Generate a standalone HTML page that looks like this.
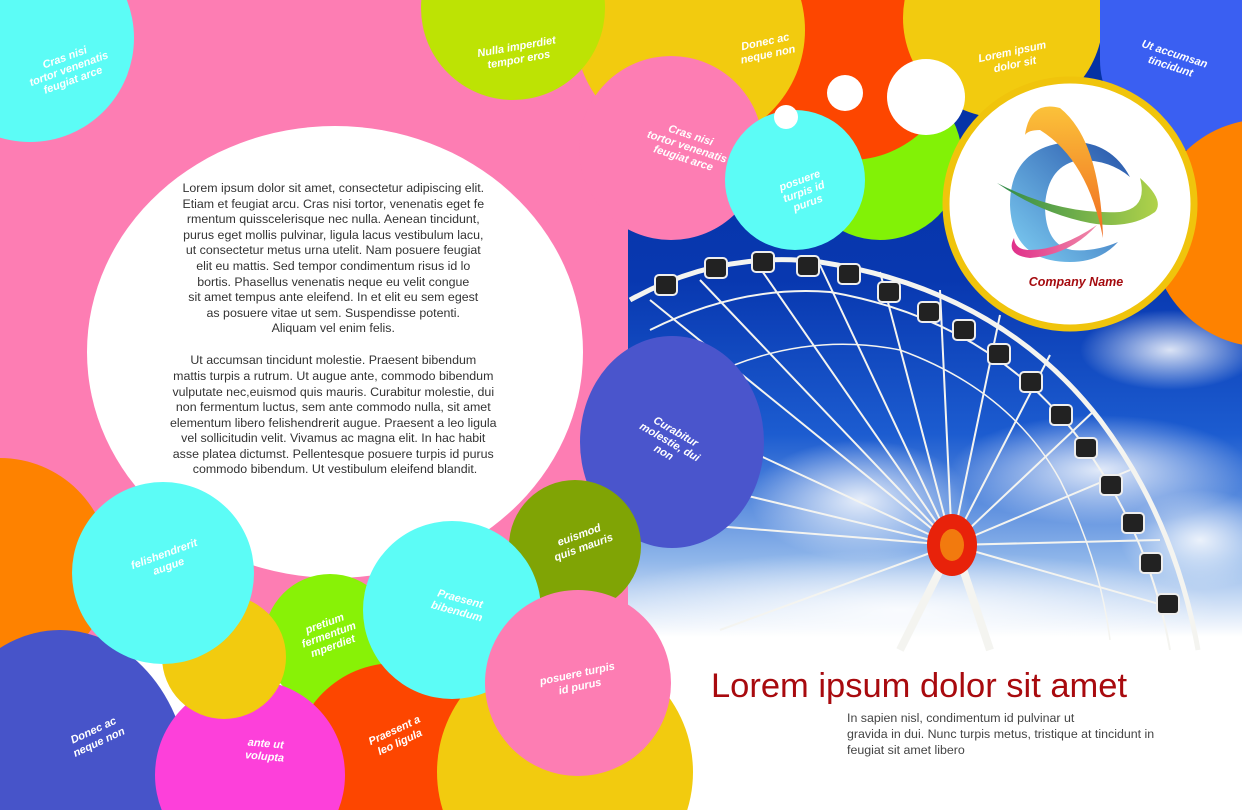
<!DOCTYPE html>
<html><head><meta charset="utf-8"><style>
html,body{margin:0;padding:0;width:1242px;height:810px;overflow:hidden;background:#fff}
svg{display:block}
.lb{font-family:"Liberation Sans",sans-serif;font-weight:bold;font-style:italic;font-size:11px;fill:#fff;text-anchor:middle}
.bt{font-family:"Liberation Sans",sans-serif;font-size:12.4px;fill:#333;text-anchor:middle}
</style></head><body>
<svg width="1242" height="810" viewBox="0 0 1242 810" xmlns="http://www.w3.org/2000/svg">
<defs>
<linearGradient id="sky" x1="0" y1="0" x2="0" y2="700" gradientUnits="userSpaceOnUse">
<stop offset="0" stop-color="#0430a0"/>
<stop offset="0.4" stop-color="#0838b0"/>
<stop offset="0.62" stop-color="#1c5cd0"/>
<stop offset="0.8" stop-color="#8fb6ea"/>
<stop offset="0.91" stop-color="#ffffff"/>
</linearGradient>
<radialGradient id="cl" cx="0.5" cy="0.5" r="0.5"><stop offset="0" stop-color="#fff" stop-opacity="0.85"/><stop offset="1" stop-color="#fff" stop-opacity="0"/></radialGradient>
<linearGradient id="gBlue" x1="0" y1="1" x2="1" y2="0"><stop offset="0" stop-color="#7fd0f4"/><stop offset="1" stop-color="#2552a8"/></linearGradient>
<linearGradient id="gOr" x1="0" y1="0" x2="0" y2="1"><stop offset="0" stop-color="#fbc23a"/><stop offset="1" stop-color="#f06a20"/></linearGradient>
<linearGradient id="gGr" x1="0" y1="0" x2="1" y2="0"><stop offset="0" stop-color="#2f8a4a"/><stop offset="1" stop-color="#b0d24a"/></linearGradient>
<linearGradient id="gPk" x1="0" y1="0" x2="1" y2="0"><stop offset="0" stop-color="#e0308a"/><stop offset="1" stop-color="#f08aa8"/></linearGradient>
</defs>
<rect x="600" y="0" width="642" height="700" fill="url(#sky)"/>
<ellipse cx="1170" cy="350" rx="90" ry="40" fill="url(#cl)"/>
<ellipse cx="1100" cy="470" rx="150" ry="55" fill="url(#cl)"/>
<ellipse cx="860" cy="500" rx="110" ry="60" fill="url(#cl)"/>
<ellipse cx="1200" cy="540" rx="80" ry="50" fill="url(#cl)"/>
<ellipse cx="900" cy="610" rx="320" ry="60" fill="url(#cl)"/>
<rect x="600" y="645" width="642" height="170" fill="#fff"/>
<g stroke="#f4f4f0" stroke-width="2" fill="none">
<path d="M630,300 Q720,250 820,262 Q1000,290 1100,420 Q1175,520 1198,650" stroke-width="5"/>
<path d="M650,330 Q740,285 830,292 Q990,320 1080,440 Q1150,535 1170,650" stroke-width="2"/>
<path d="M700,380 Q800,330 900,350 Q1010,390 1060,480 Q1100,560 1110,640" stroke-width="1.5"/>
<line x1="952" y1="545" x2="650" y2="300"/><line x1="952" y1="545" x2="700" y2="280"/>
<line x1="952" y1="545" x2="760" y2="268"/><line x1="952" y1="545" x2="820" y2="265"/>
<line x1="952" y1="545" x2="880" y2="272"/><line x1="952" y1="545" x2="940" y2="290"/>
<line x1="952" y1="545" x2="1000" y2="315"/><line x1="952" y1="545" x2="1050" y2="355"/>
<line x1="952" y1="545" x2="1095" y2="410"/><line x1="952" y1="545" x2="1130" y2="470"/>
<line x1="952" y1="545" x2="1160" y2="540"/><line x1="952" y1="545" x2="1180" y2="610"/>
<line x1="952" y1="545" x2="640" y2="400"/><line x1="952" y1="545" x2="640" y2="470"/>
<line x1="952" y1="545" x2="640" y2="520"/><line x1="952" y1="545" x2="720" y2="630"/>
<line x1="945" y1="560" x2="900" y2="650" stroke-width="8"/><line x1="960" y1="560" x2="990" y2="650" stroke-width="8"/>
</g>
<g fill="#222" stroke="#eee" stroke-width="2">
<rect x="655" y="275" width="22" height="20" rx="4"/><rect x="705" y="258" width="22" height="20" rx="4"/>
<rect x="752" y="252" width="22" height="20" rx="4"/><rect x="797" y="256" width="22" height="20" rx="4"/>
<rect x="838" y="264" width="22" height="20" rx="4"/><rect x="878" y="282" width="22" height="20" rx="4"/>
<rect x="918" y="302" width="22" height="20" rx="4"/><rect x="953" y="320" width="22" height="20" rx="4"/>
<rect x="988" y="344" width="22" height="20" rx="4"/><rect x="1020" y="372" width="22" height="20" rx="4"/>
<rect x="1050" y="405" width="22" height="20" rx="4"/><rect x="1075" y="438" width="22" height="20" rx="4"/>
<rect x="1100" y="475" width="22" height="20" rx="4"/><rect x="1122" y="513" width="22" height="20" rx="4"/>
<rect x="1140" y="553" width="22" height="20" rx="4"/><rect x="1157" y="594" width="22" height="20" rx="4"/>
</g>
<ellipse cx="952" cy="545" rx="25" ry="31" fill="#e8220a"/>
<ellipse cx="952" cy="545" rx="12" ry="16" fill="#f7a010" opacity="0.7"/>
<rect x="0" y="0" width="628" height="640" fill="#fd7db3"/>
<circle cx="30" cy="38" r="104" fill="#5cfcf6"/>
<circle cx="880" cy="158" r="82" fill="#82f206"/>
<circle cx="850" cy="55" r="105" fill="#fd4600"/>
<circle cx="690" cy="30" r="115" fill="#f2cb0f"/>
<circle cx="513" cy="8" r="92" fill="#bde304"/>
<circle cx="1003" cy="18" r="100" fill="#f2cb0f"/>
<path d="M1100,0 H1242 V150 H1180 Q1100,120 1100,60 Z" fill="#3a5ff2"/>
<circle cx="1265" cy="233" r="114" fill="#fe8200"/>
<circle cx="671" cy="148" r="92" fill="#fd7db3"/>
<circle cx="795" cy="180" r="70" fill="#5cfcf6"/>
<circle cx="786" cy="117" r="12" fill="#fff"/>
<circle cx="845" cy="93" r="18" fill="#fff"/>
<ellipse cx="926" cy="97" rx="39" ry="38" fill="#fff"/>
<circle cx="1070" cy="204" r="124" fill="#fff" stroke="#f0c40c" stroke-width="7"/>
<path d="M1130,177 Q1110,140 1068,142 Q1010,148 1010,205 Q1012,262 1070,262 Q1100,262 1118,242 Q1095,252 1072,250 Q1045,245 1045,205 Q1048,165 1080,160 Q1110,160 1130,177 Z" fill="url(#gBlue)"/>
<path d="M997,183 Q1060,215 1120,212 Q1148,208 1140,178 Q1165,200 1155,212 Q1130,230 1090,223 Q1040,213 997,183 Z" fill="url(#gGr)"/>
<path d="M1025,135 Q1030,100 1060,108 Q1100,140 1103,238 Q1088,160 1040,130 Q1028,130 1025,135 Z" fill="url(#gOr)"/>
<path d="M1014,238 Q1005,255 1030,258 Q1070,255 1097,225 Q1060,250 1030,250 Q1015,250 1014,238 Z" fill="url(#gPk)"/>
<text x="1076" y="286" font-family="Liberation Sans,sans-serif" font-weight="bold" font-style="italic" font-size="12.5" fill="#a50c10" text-anchor="middle">Company Name</text>
<ellipse cx="335" cy="352" rx="248" ry="226" fill="#fff"/>
<ellipse cx="672" cy="442" rx="92" ry="106" fill="#4a55cc"/>
<circle cx="575" cy="546" r="66" fill="#80a405"/>
<circle cx="0" cy="568" r="110" fill="#fe8200"/>
<ellipse cx="60" cy="790" rx="130" ry="160" fill="#4754c9"/>
<circle cx="330" cy="640" r="66" fill="#88f206"/>
<circle cx="395" cy="765" r="102" fill="#fd4600"/>
<circle cx="250" cy="775" r="95" fill="#fd40da"/>
<circle cx="224" cy="657" r="62" fill="#f2cb0f"/>
<circle cx="163" cy="573" r="91" fill="#5cfcf6"/>
<circle cx="565" cy="772" r="128" fill="#f2cb0f"/>
<circle cx="452" cy="610" r="89" fill="#5cfcf6"/>
<circle cx="578" cy="683" r="93" fill="#fd7db3"/>
<text class="lb" transform="translate(70,72) rotate(-20)"><tspan x="0" y="-12">Cras nisi</tspan><tspan x="0" y="0">tortor venenatis</tspan><tspan x="0" y="12">feugiat arce</tspan></text>
<text class="lb" transform="translate(518,55) rotate(-10)"><tspan x="0" y="-5">Nulla imperdiet</tspan><tspan x="0" y="8">tempor eros</tspan></text>
<text class="lb" transform="translate(767,50) rotate(-12)"><tspan x="0" y="-5">Donec ac</tspan><tspan x="0" y="8">neque non</tspan></text>
<text class="lb" transform="translate(1014,60) rotate(-12)"><tspan x="0" y="-5">Lorem ipsum</tspan><tspan x="0" y="8">dolor sit</tspan></text>
<text class="lb" transform="translate(1172,62) rotate(18)"><tspan x="0" y="-5">Ut accumsan</tspan><tspan x="0" y="8">tincidunt</tspan></text>
<text class="lb" transform="translate(686,150) rotate(18)"><tspan x="0" y="-12">Cras nisi</tspan><tspan x="0" y="0">tortor venenatis</tspan><tspan x="0" y="12">feugiat arce</tspan></text>
<text class="lb" transform="translate(805,195) rotate(-20)"><tspan x="0" y="-12">posuere</tspan><tspan x="0" y="0">turpis id</tspan><tspan x="0" y="12">purus</tspan></text>
<text class="lb" transform="translate(668,445) rotate(30)"><tspan x="0" y="-12">Curabitur</tspan><tspan x="0" y="0">molestie, dui</tspan><tspan x="0" y="12">non</tspan></text>
<text class="lb" transform="translate(582,543) rotate(-20)"><tspan x="0" y="-5">euismod</tspan><tspan x="0" y="8">quis mauris</tspan></text>
<text class="lb" transform="translate(167,562) rotate(-20)"><tspan x="0" y="-5">felishendrerit</tspan><tspan x="0" y="8">augue</tspan></text>
<text class="lb" transform="translate(330,638) rotate(-20)"><tspan x="0" y="-12">pretium</tspan><tspan x="0" y="0">fermentum</tspan><tspan x="0" y="12">mperdiet</tspan></text>
<text class="lb" transform="translate(458,607) rotate(15)"><tspan x="0" y="-5">Praesent</tspan><tspan x="0" y="8">bibendum</tspan></text>
<text class="lb" transform="translate(579,682) rotate(-12)"><tspan x="0" y="-5">posuere turpis</tspan><tspan x="0" y="8">id purus</tspan></text>
<text class="lb" transform="translate(97,738) rotate(-25)"><tspan x="0" y="-5">Donec ac</tspan><tspan x="0" y="8">neque non</tspan></text>
<text class="lb" transform="translate(265,752) rotate(5)"><tspan x="0" y="-5">ante ut</tspan><tspan x="0" y="8">volupta</tspan></text>
<text class="lb" transform="translate(398,738) rotate(-25)"><tspan x="0" y="-5">Praesent a</tspan><tspan x="0" y="8">leo ligula</tspan></text>
<text class="bt">
<tspan x="335" y="192">Lorem ipsum dolor sit amet, consectetur adipiscing elit.</tspan>
<tspan x="335" y="208">Etiam et feugiat arcu. Cras nisi tortor, venenatis eget fe</tspan>
<tspan x="335" y="223">rmentum quisscelerisque nec nulla. Aenean tincidunt,</tspan>
<tspan x="335" y="239">purus eget mollis pulvinar, ligula lacus vestibulum lacu,</tspan>
<tspan x="335" y="254">ut consectetur metus urna utelit. Nam posuere feugiat</tspan>
<tspan x="335" y="270">elit eu mattis. Sed tempor condimentum risus id lo</tspan>
<tspan x="335" y="286">bortis. Phasellus venenatis neque eu velit congue</tspan>
<tspan x="335" y="301">sit amet tempus ante eleifend. In et elit eu sem egest</tspan>
<tspan x="335" y="317">as posuere vitae ut sem. Suspendisse potenti.</tspan>
<tspan x="335" y="332">Aliquam vel enim felis.</tspan>
<tspan x="335" y="364">Ut accumsan tincidunt molestie. Praesent bibendum</tspan>
<tspan x="335" y="380">mattis turpis a rutrum. Ut augue ante, commodo bibendum</tspan>
<tspan x="335" y="396">vulputate nec,euismod quis mauris. Curabitur molestie, dui</tspan>
<tspan x="335" y="411">non fermentum luctus, sem ante commodo nulla, sit amet</tspan>
<tspan x="335" y="427">elementum libero felishendrerit augue. Praesent a leo ligula</tspan>
<tspan x="335" y="442">vel sollicitudin velit. Vivamus ac magna elit. In hac habit</tspan>
<tspan x="335" y="458">asse platea dictumst. Pellentesque posuere turpis id purus</tspan>
<tspan x="335" y="473">commodo bibendum. Ut vestibulum eleifend blandit.</tspan>
</text>
<text x="711" y="697" font-family="Liberation Sans,sans-serif" font-size="34.5" fill="#a80a0e">Lorem ipsum dolor sit amet</text>
<text font-family="Liberation Sans,sans-serif" font-size="12.4" fill="#444">
<tspan x="847" y="722">In sapien nisl, condimentum id pulvinar ut</tspan>
<tspan x="847" y="738">gravida in dui. Nunc turpis metus, tristique at tincidunt in</tspan>
<tspan x="847" y="754">feugiat sit amet libero</tspan>
</text>
</svg>
</body></html>
